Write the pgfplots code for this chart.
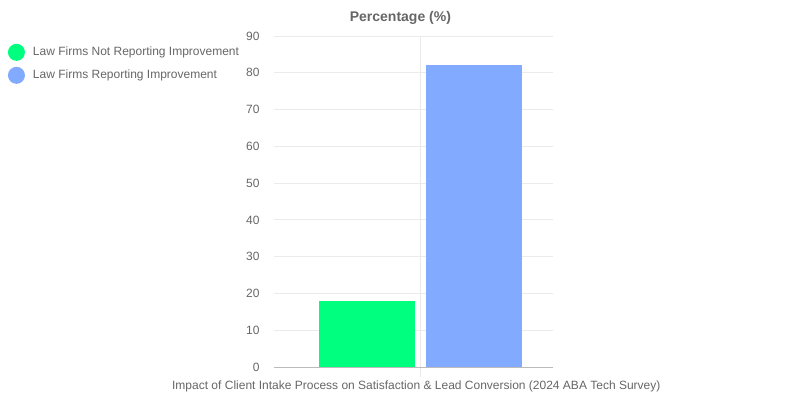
\documentclass[border=0pt]{standalone}
\usepackage{pgfplots}
\pgfplotsset{compat=1.18}
\usepackage{fontspec}
\setmainfont{Liberation Sans}
\definecolor{sgreen}{HTML}{00FF7F}
\definecolor{lblue}{HTML}{82AAFF}
\definecolor{txt}{HTML}{666666}
\definecolor{gridc}{HTML}{EBEBEB}
\definecolor{axc}{HTML}{BBBBBB}
\begin{document}
\begin{tikzpicture}[x=1pt,y=1pt]
\path[use as bounding box] (0,0) rectangle (800,400);
\begin{axis}[
  at={(274pt,33pt)}, anchor=south west,
  scale only axis, width=279pt, height=331pt,
  xmin=-146, xmax=133, ymin=0, ymax=90,
  ytick={0,10,...,90}, xtick={0}, xticklabels={},
  xmajorgrids, ymajorgrids,
  grid style={gridc, line width=0.8pt},
  axis lines=left, axis line style={-},
  y axis line style={draw=none},
  x axis line style={axc, line width=0.8pt},
  ytick style={draw=none},
  xtick style={gridc, line width=0.8pt},
  major tick length=10pt, tick align=outside,
  /pgf/number format/assume math mode=true,
  tick label style={font=\fontsize{12}{14}\selectfont, text=txt},
  yticklabel style={xshift=-1pt},
  ybar, bar width=96pt, bar shift=0pt,
  xlabel={Impact of Client Intake Process on Satisfaction \& Lead Conversion (2024 ABA Tech Survey)},
  xlabel style={font=\fontsize{12}{14}\selectfont, text=txt, at={(axis description cs:0.51,0)}, anchor=center, yshift=-19pt},
  title={Percentage (\%)},
  title style={font=\bfseries\fontsize{14}{16}\selectfont, text=txt, at={(axis description cs:0.453,1)}, anchor=center, yshift=12pt},
  legend style={at={(axis description cs:-0.965,0.983)}, anchor=north west, draw=none, fill=none,
    font=\fontsize{12}{14}\selectfont, text=txt, row sep=6pt,
    legend cell align=left},
  legend image code/.code={\fill[#1, draw=none] (3pt,0) circle (8.5pt);},
]
\addplot[fill=sgreen, draw=none] coordinates {(-53.5,18)};
\addlegendentry{\hspace{6pt}Law Firms Not Reporting Improvement}
\addplot[fill=lblue, draw=none] coordinates {(53.5,82)};
\addlegendentry{\hspace{6pt}Law Firms Reporting Improvement}
\end{axis}
\end{tikzpicture}
\end{document}
